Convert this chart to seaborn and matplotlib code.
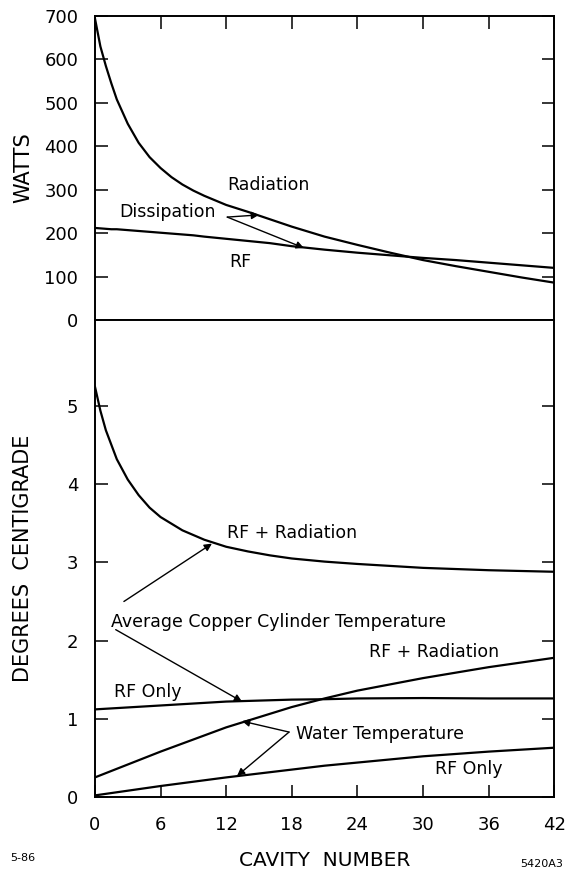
import numpy as np
import pandas as pd
import seaborn as sns
import matplotlib.pyplot as plt

# Top panel: power (watts) along the cavity string
cavity_top = [0, 0.5, 1, 1.5, 2, 3, 4, 5, 6, 7, 8, 9, 10, 12, 14, 16, 18, 21, 24, 27, 30, 33, 36, 39, 42]
radiation_w = [695, 630, 585, 545, 508, 452, 408, 375, 350, 329, 312, 298, 286, 265, 249, 232, 215, 192, 173, 155, 138, 124, 111, 98, 86]
rf_w = [212, 211, 210, 209, 209, 207, 205, 203, 201, 199, 197, 195, 192, 187, 182, 177, 170, 162, 155, 149, 143, 138, 132, 126, 120]

# Bottom panel: temperatures (degrees centigrade)
cavity_cu = [0, 0.5, 1, 2, 3, 4, 5, 6, 8, 10, 12, 14, 16, 18, 21, 24, 30, 36, 42]
copper_rf_rad = [5.25, 4.94, 4.69, 4.32, 4.06, 3.86, 3.70, 3.58, 3.41, 3.29, 3.20, 3.14, 3.09, 3.05, 3.01, 2.98, 2.93, 2.90, 2.88]

cavity_lin = [0, 6, 12, 18, 21, 24, 30, 36, 42]
copper_rf = [1.12, 1.17, 1.22, 1.245, 1.25, 1.26, 1.265, 1.26, 1.26]
water_rf_rad = [0.25, 0.58, 0.89, 1.15, 1.26, 1.36, 1.52, 1.66, 1.78]
water_rf = [0.02, 0.14, 0.25, 0.35, 0.40, 0.44, 0.52, 0.58, 0.63]

x_ticks = [0, 6, 12, 18, 24, 30, 36, 42]

sns.set_style("ticks")
plt.rcParams['font.family'] = ['DejaVu Sans']
plt.rcParams['text.color'] = 'black'
plt.rcParams['axes.labelcolor'] = 'black'

top_df = pd.DataFrame({"cavity": cavity_top, "Radiation": radiation_w, "RF": rf_w})
cu_df = pd.DataFrame({"cavity": cavity_cu, "cu_rad": copper_rf_rad})
lin_df = pd.DataFrame({"cavity": cavity_lin, "cu_rf": copper_rf, "w_rad": water_rf_rad, "w_rf": water_rf})

fig = plt.figure(figsize=(5.65, 8.71), dpi=100)
ax1 = fig.add_axes([0.168, 0.6326, 0.813, 0.349])
ax2 = fig.add_axes([0.168, 0.0850, 0.813, 0.5476])

lw = 1.6
for col in ["Radiation", "RF"]:
    sns.lineplot(data=top_df, x="cavity", y=col, ax=ax1, color="black", lw=lw)
sns.lineplot(data=cu_df, x="cavity", y="cu_rad", ax=ax2, color="black", lw=lw)
for col in ["cu_rf", "w_rad", "w_rf"]:
    sns.lineplot(data=lin_df, x="cavity", y=col, ax=ax2, color="black", lw=lw)

ax1.set_xlim(0, 42)
ax1.set_ylim(0, 700)
ax2.set_xlim(0, 42)
ax2.set_ylim(0, 6.1)

ax1.set_xticks(x_ticks)
ax1.set_yticks(range(0, 701, 100))
ax2.set_xticks(x_ticks)
ax2.set_yticks([0, 1, 2, 3, 4, 5])

for ax in (ax1, ax2):
    for s in ax.spines.values():
        s.set_linewidth(1.4)
        s.set_color("black")
    ax.tick_params(direction="in", length=9, width=1.1, labelsize=13, left=True, right=True,
                   colors="black", pad=12)

ax1.tick_params(axis="x", top=True, bottom=False, labelbottom=False, labeltop=False)
ax2.tick_params(axis="x", top=False, bottom=True, pad=14)

ax1.set_ylabel("WATTS", fontsize=15, labelpad=8)
ax2.set_ylabel("DEGREES  CENTIGRADE", fontsize=15, labelpad=24)
ax2.set_xlabel("CAVITY  NUMBER", fontsize=14.5, labelpad=12)
ax1.set_xlabel("")

fs = 12.5
arrow = dict(arrowstyle="-|>", color="black", lw=1.0, mutation_scale=11, shrinkA=0, shrinkB=0)

# top panel annotations
ax1.text(12.1, 311, "Radiation", fontsize=fs, va="center")
ax1.text(12.3, 134, "RF", fontsize=fs, va="center")
ax1.text(2.2, 249, "Dissipation", fontsize=fs, va="center")
ax1.annotate("", xy=(15.0, 242), xytext=(12.1, 237), arrowprops=arrow)
ax1.annotate("", xy=(19.1, 166), xytext=(12.1, 237), arrowprops=arrow)

# bottom panel annotations
ax2.text(12.1, 3.38, "RF + Radiation", fontsize=fs, va="center")
ax2.text(1.5, 2.24, "Average Copper Cylinder Temperature", fontsize=fs, va="center")
ax2.annotate("", xy=(10.7, 3.24), xytext=(2.65, 2.50), arrowprops=arrow)
ax2.annotate("", xy=(13.45, 1.22), xytext=(1.9, 2.14), arrowprops=arrow)
ax2.text(25.1, 1.85, "RF + Radiation", fontsize=fs, va="center")
ax2.text(1.74, 1.34, "RF Only", fontsize=fs, va="center")
ax2.text(18.4, 0.80, "Water Temperature", fontsize=fs, va="center")
ax2.annotate("", xy=(13.45, 0.97), xytext=(17.75, 0.83), arrowprops=arrow)
ax2.annotate("", xy=(13.0, 0.27), xytext=(17.75, 0.83), arrowprops=arrow)
ax2.text(31.1, 0.36, "RF Only", fontsize=fs, va="center")

fig.text(10 / 565, 1 - 858 / 871, "5-86", fontsize=8, va="center")
fig.text(563 / 565, 1 - 864 / 871, "5420A3", fontsize=8, va="center", ha="right")

fig.savefig("out.png", dpi=100)
